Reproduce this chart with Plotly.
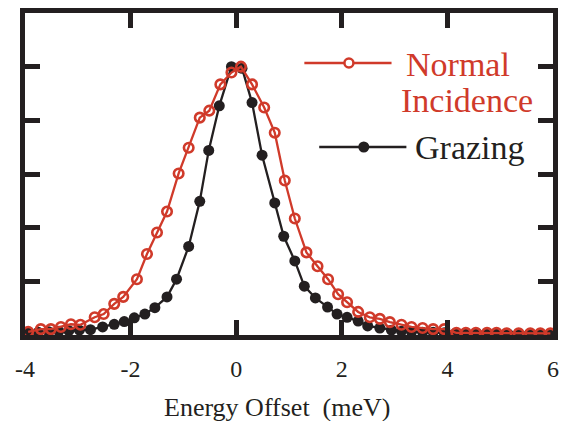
import plotly.graph_objects as go

# ---- data ----
normal_x = [-3.94, -3.70, -3.51, -3.32, -3.13, -2.95, -2.68, -2.51, -2.31, -2.14,
            -1.88, -1.69, -1.50, -1.31, -1.09, -0.90, -0.69, -0.51, -0.30, -0.09,
            0.09, 0.30, 0.53, 0.73, 0.92, 1.11, 1.33, 1.54, 1.74, 1.93,
            2.10, 2.31, 2.53, 2.72, 2.91, 3.13, 3.32, 3.53, 3.73, 3.94,
            4.17, 4.35, 4.54, 4.75, 4.93, 5.12, 5.35, 5.57, 5.76, 5.95]
normal_y = [0.06, 0.11, 0.11, 0.15, 0.20, 0.19, 0.33, 0.39, 0.58, 0.71,
            1.04, 1.51, 1.91, 2.30, 3.01, 3.49, 4.05, 4.18, 4.67, 4.89,
            5.00, 4.67, 4.24, 3.77, 2.88, 2.17, 1.54, 1.28, 1.04, 0.76,
            0.61, 0.43, 0.33, 0.30, 0.24, 0.19, 0.15, 0.13, 0.11, 0.11,
            0.04, 0.04, 0.04, 0.04, 0.04, 0.03, 0.03, 0.03, 0.03, 0.03]

grazing_x = [-3.94, -3.75, -3.55, -3.36, -3.17, -2.97, -2.76, -2.53, -2.31, -2.12,
             -1.93, -1.73, -1.54, -1.31, -1.13, -0.90, -0.69, -0.52, -0.32, -0.09,
             0.11, 0.30, 0.49, 0.73, 0.90, 1.11, 1.29, 1.50, 1.73, 1.91,
             2.10, 2.31, 2.49, 2.72, 2.94, 3.13, 3.32, 3.53, 3.73, 3.94,
             4.15, 4.35, 4.56, 4.75, 4.94, 5.15, 5.35, 5.55, 5.75, 5.95]
grazing_y = [0.04, 0.05, 0.06, 0.07, 0.08, 0.09, 0.10, 0.15, 0.20, 0.25,
             0.32, 0.39, 0.51, 0.71, 1.04, 1.65, 2.49, 3.44, 4.27, 5.00,
             4.97, 4.33, 3.35, 2.46, 1.84, 1.38, 0.91, 0.69, 0.52, 0.39,
             0.33, 0.26, 0.17, 0.13, 0.09, 0.07, 0.06, 0.05, 0.05, 0.04,
             0.03, 0.03, 0.03, 0.03, 0.03, 0.02, 0.02, 0.02, 0.02, 0.02]

x_tickvals = [-4, -2, 0, 2, 4, 6]
x_ticktext = ["-4", "-2", "0", "2", "4", "6"]
y_tickvals = [1, 2, 3, 4, 5]

series_names = ["Normal", "Incidence", "Grazing"]
x_title = "Energy Offset\u00a0 (meV)"

RED = "#d03a2a"
DARK = "#231f20"
FONT = "Liberation Serif"

W, H = 563, 421
L, R, T, B = 25, 5, 13, 86
PW, PH = W - L - R, H - T - B


def px(xp):
    return (xp - L) / PW


def py(yp):
    return (H - B - yp) / PH


fig = go.Figure()
fig.add_trace(go.Scatter(
    x=grazing_x, y=grazing_y, mode="lines+markers",
    line=dict(color=DARK, width=2.3),
    marker=dict(symbol="circle", size=11, color=DARK),
    showlegend=False, cliponaxis=False))
fig.add_trace(go.Scatter(
    x=normal_x, y=normal_y, mode="lines+markers",
    line=dict(color=RED, width=2.3),
    marker=dict(symbol="circle-open", size=9.5, color=RED, line=dict(width=2.6, color=RED)),
    showlegend=False, cliponaxis=False))

axis_common = dict(
    showline=True, linewidth=5, linecolor=DARK, mirror="ticks",
    ticks="inside", ticklen=15, tickwidth=4.5, tickcolor=DARK,
    showgrid=False, zeroline=False,
)

fig.update_xaxes(range=[-4, 6], tickvals=x_tickvals, ticktext=x_ticktext,
                 tickfont=dict(family=FONT, size=24, color=DARK),
                 ticklabelstandoff=8, **axis_common)
fig.update_yaxes(range=[0, 6], tickvals=y_tickvals, showticklabels=False, **axis_common)

shapes = []
annotations = []
# legend: Normal Incidence
shapes.append(dict(type="line", xref="paper", yref="paper",
                   x0=px(307), x1=px(395), y0=py(63), y1=py(63),
                   line=dict(color=RED, width=2.5)))
shapes.append(dict(type="circle", xref="paper", yref="paper",
                   xsizemode="pixel", ysizemode="pixel",
                   xanchor=px(352), yanchor=py(63),
                   x0=-4.5, x1=4.5, y0=-4.5, y1=4.5,
                   line=dict(color=RED, width=2.5), fillcolor="white"))
# legend: Grazing
shapes.append(dict(type="line", xref="paper", yref="paper",
                   x0=px(322), x1=px(410), y0=py(147), y1=py(147),
                   line=dict(color=DARK, width=2.5)))
shapes.append(dict(type="circle", xref="paper", yref="paper",
                   xsizemode="pixel", ysizemode="pixel",
                   xanchor=px(367), yanchor=py(147),
                   x0=-5.5, x1=5.5, y0=-5.5, y1=5.5,
                   line=dict(color=DARK, width=0), fillcolor=DARK))

annotations.append(dict(text=series_names[0], xref="paper", yref="paper",
                        x=px(408), y=py(64), xanchor="left", yanchor="middle",
                        showarrow=False, font=dict(family=FONT, size=34, color=RED)))
annotations.append(dict(text=series_names[1], xref="paper", yref="paper",
                        x=px(403), y=py(100), xanchor="left", yanchor="middle",
                        showarrow=False, font=dict(family=FONT, size=34, color=RED)))
annotations.append(dict(text=series_names[2], xref="paper", yref="paper",
                        x=px(417), y=py(147), xanchor="left", yanchor="middle",
                        showarrow=False, font=dict(family=FONT, size=34, color=DARK)))
annotations.append(dict(text=x_title, xref="paper", yref="paper",
                        x=px(279), y=py(407), xanchor="center", yanchor="middle",
                        showarrow=False, font=dict(family=FONT, size=26, color=DARK)))

fig.update_layout(
    width=W, height=H,
    margin=dict(l=L, r=R, t=T, b=B),
    paper_bgcolor="white", plot_bgcolor="white",
    shapes=shapes, annotations=annotations,
)

fig.write_html("out.html")
